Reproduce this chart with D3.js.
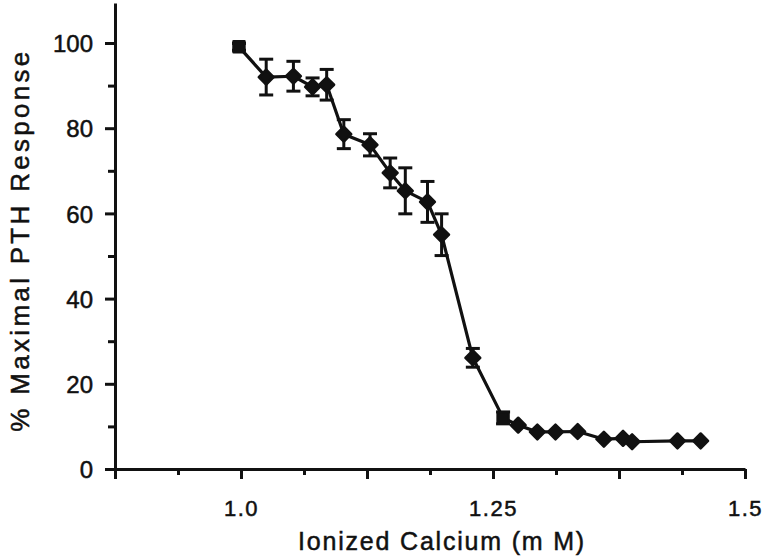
<!DOCTYPE html>
<html>
<head>
<meta charset="utf-8">
<script src="https://cdn.jsdelivr.net/npm/d3@7/dist/d3.min.js"></script>
<style>
  html, body { margin: 0; padding: 0; background: #fff; }
  svg { display: block; }
  text { font-family: "Liberation Sans", Arial, Helvetica, sans-serif; fill: #111; stroke: #111; stroke-width: 0.5px; }
</style>
</head>
<body>
<svg id="chart" width="767" height="560"></svg>
<script>
// ---- data ----
const calcium = [0.998, 1.025, 1.052, 1.071, 1.085, 1.102, 1.128, 1.148, 1.163, 1.185, 1.199, 1.230, 1.260, 1.275, 1.294, 1.312, 1.334, 1.360, 1.379, 1.388, 1.433, 1.456];
const pthResponse = [99.1, 92.0, 92.2, 89.7, 90.2, 78.6, 76.1, 69.5, 65.3, 62.7, 55.0, 26.1, 12.0, 10.3, 8.7, 8.7, 8.8, 7.0, 7.2, 6.4, 6.6, 6.6];
const sem = [0.8, 4.2, 3.5, 2.1, 3.6, 3.4, 2.6, 3.5, 5.4, 4.8, 4.9, 2.2, 1.4, 0, 0, 0, 0, 0, 0, 0, 0, 0];
const squarePoints = [0.998, 1.260];
const xMajorTicks = [0.875, 1.0, 1.125, 1.25, 1.375, 1.5];
const xMinorTicks = [0.9375, 1.0625, 1.1875, 1.3125, 1.4375];
const xTickLabels = {"1": "1.0", "1.25": "1.25", "1.5": "1.5"};
const yMajorTicks = [0, 20, 40, 60, 80, 100];
const yMinorTicks = [10, 30, 50, 70, 90];
const xTitle = "Ionized Calcium (m M)";
const yTitle = "% Maximal PTH Response";

// ---- layout ----
const svg = d3.select("#chart");
const x = d3.scaleLinear().domain([0.875, 1.5]).range([115, 745]);
const yTop = 100 * (469 - 3) / (469 - 43);
const y = d3.scaleLinear().domain([0, yTop]).range([469, 3]);

const ink = "#111";

// x axis
const gx = svg.append("g").attr("transform", `translate(0,${y(0)})`);
gx.call(d3.axisBottom(x).tickValues(xMajorTicks).tickSize(10).tickSizeOuter(0)
  .tickFormat(d => xTickLabels[String(d)] || ""));
const gxm = svg.append("g").attr("transform", `translate(0,${y(0)})`);
gxm.call(d3.axisBottom(x).tickValues(xMinorTicks).tickSize(6).tickSizeOuter(0).tickFormat(""));
gxm.select(".domain").remove();

// y axis
const gy = svg.append("g").attr("transform", `translate(${x(0.875)},0)`);
gy.call(d3.axisLeft(y).tickValues(yMajorTicks).tickSize(10).tickSizeOuter(0).tickPadding(12));
const gym = svg.append("g").attr("transform", `translate(${x(0.875)},0)`);
gym.call(d3.axisLeft(y).tickValues(yMinorTicks).tickSize(7).tickSizeOuter(0).tickFormat(""));
gym.select(".domain").remove();

svg.selectAll(".domain").attr("stroke", ink).attr("stroke-width", 3);
svg.selectAll(".tick line").attr("stroke", ink).attr("stroke-width", 3);
gx.selectAll(".tick text").attr("font-size", 22).attr("letter-spacing", "1.5px")
  .attr("font-family", '"Liberation Sans", Arial, sans-serif').attr("fill", ink).attr("dy", "1.55em");
gy.selectAll(".tick text").attr("font-size", 24)
  .attr("font-family", '"Liberation Sans", Arial, sans-serif').attr("fill", ink).attr("dy", "0.36em");

// titles
svg.append("text").attr("x", 442).attr("y", 550).attr("text-anchor", "middle")
  .attr("font-size", 25).attr("letter-spacing", "1.8px").text(xTitle);
svg.append("text").attr("transform", "translate(29,240) rotate(-90)").attr("text-anchor", "middle")
  .attr("font-size", 26).attr("letter-spacing", "3.3px").text(yTitle);

const pts = calcium.map((c, i) => ({x: c, y: pthResponse[i], e: sem[i]}));

// line
svg.append("path").datum(pts)
  .attr("d", d3.line().x(d => x(d.x)).y(d => y(d.y)))
  .attr("fill", "none").attr("stroke", ink).attr("stroke-width", 3.2).attr("stroke-linejoin", "round");

// error bars
const eb = svg.append("g").attr("stroke", ink).attr("stroke-width", 3);
pts.filter(d => d.e > 0).forEach(d => {
  eb.append("line").attr("x1", x(d.x)).attr("x2", x(d.x)).attr("y1", y(d.y + d.e)).attr("y2", y(d.y - d.e));
  [d.y + d.e, d.y - d.e].forEach(v => {
    eb.append("line").attr("x1", x(d.x) - 7).attr("x2", x(d.x) + 7).attr("y1", y(v)).attr("y2", y(v));
  });
});

// markers
const isSquare = d => squarePoints.includes(d.x);
svg.append("g").selectAll("path").data(pts).join("path")
  .attr("transform", d => `translate(${x(d.x)},${y(d.y)}) rotate(${isSquare(d) ? 0 : 45})`)
  .attr("d", d => d3.symbol().type(d3.symbolSquare).size(isSquare(d) ? 120 : 110)())
  .attr("fill", ink).attr("stroke", ink).attr("stroke-width", 2.5).attr("stroke-linejoin", "round");
</script>
</body>
</html>
